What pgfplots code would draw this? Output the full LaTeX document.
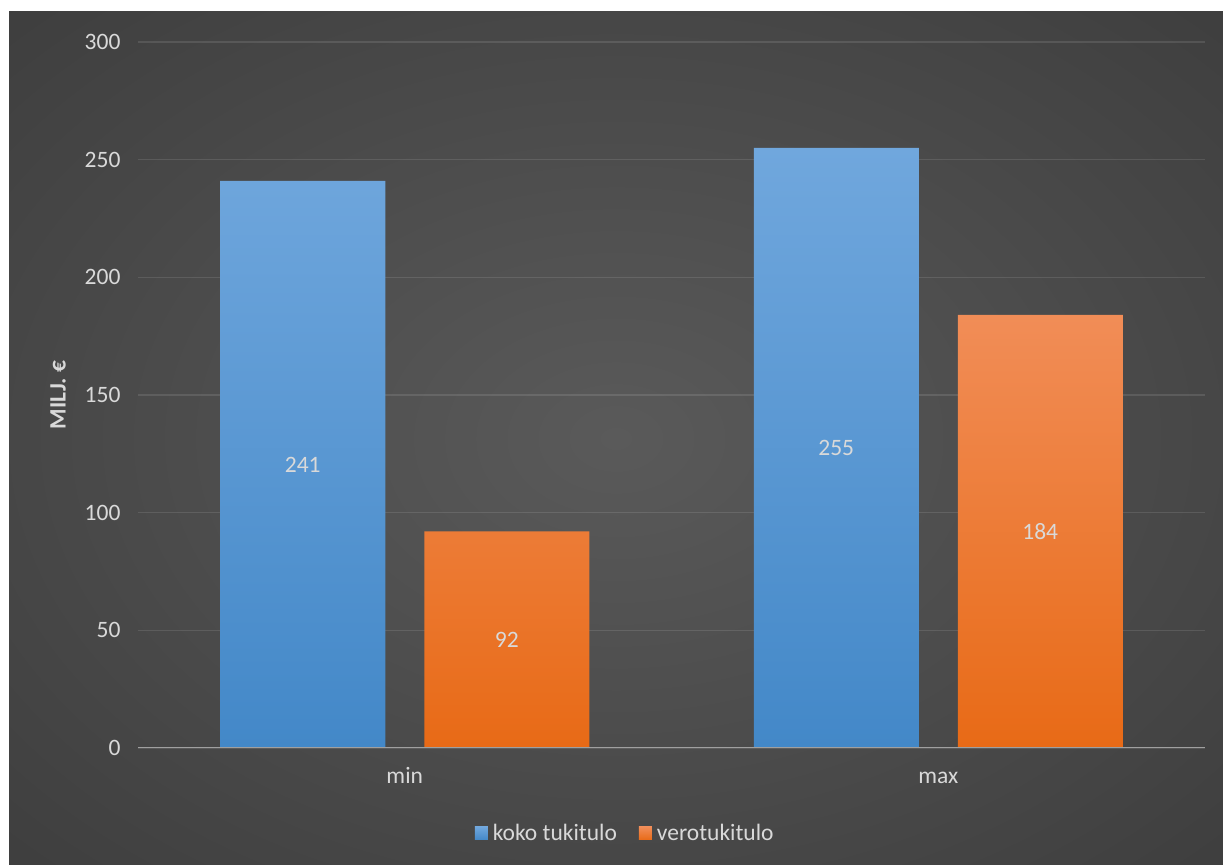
\documentclass[border=0pt]{standalone}
\usepackage{pgfplots}
\pgfplotsset{compat=1.18}
\usepackage{fontspec}
\setmainfont{Carlito}
\definecolor{bgin}{HTML}{5A5A5A}
\definecolor{bgmid}{HTML}{333333}
\definecolor{bgout}{HTML}{262626}
\definecolor{btop}{HTML}{70A7DD}
\definecolor{bbot}{HTML}{4388C8}
\definecolor{otop}{HTML}{F18D57}
\definecolor{obot}{HTML}{E86A16}
\definecolor{txt}{HTML}{D9D9D9}
\definecolor{zeroline}{HTML}{A0A0A0}
\pgfdeclareradialshading{bgshade}{\pgfpointorigin}{color(0bp)=(bgin); color(50bp)=(bgmid); color(71bp)=(bgout)}
\newcommand{\chartfont}{\fontsize{23.5bp}{28bp}\selectfont}
\begin{document}
\begin{tikzpicture}[x=1bp,y=1bp]
\fill[white] (0,0) rectangle (1223,865);
\path[use as bounding box] (0,0) rectangle (1223,865);
\shade[shading=bgshade] (9,0) rectangle (1223,853);
\begin{axis}[
  at={(138bp,117bp)}, anchor=south west,
  scale only axis, width=1067bp, height=706bp,
  ybar=39bp, bar width=165bp,
  xmin=-0.5, xmax=1.5, ymin=0, ymax=300,
  xtick=data, xticklabels={min,max},
  ytick={0,50,...,300},
  axis line style={draw=none},
  major tick length=0pt,
  ymajorgrids, grid style={white, opacity=0.11, line width=1.5bp},
  /pgf/number format/assume math mode=true,
  ticklabel style={font=\chartfont, text=txt},
  yticklabel style={xshift=-14bp},
  xticklabel style={text height=12bp, text depth=0pt, yshift=-20bp},
  ylabel={\textbf{MILJ. €}},
  ylabel style={at={(axis description cs:-0.075,0.5)}, anchor=center, font=\chartfont, text=txt},
  visualization depends on=y \as \rawy,
  nodes near coords,
  nodes near coords style={font=\chartfont, text=txt, anchor=center, shift={(axis direction cs:0,-\rawy/2)}},
  legend style={at={(axis description cs:0.458,-0.121)}, anchor=center, draw=none, fill=none,
    font=\chartfont, text=txt, legend columns=2,
    nodes={inner xsep=5bp},
    /tikz/every even column/.append style={column sep=17bp}},
  legend image code/.code={\path[#1, draw=none] (0bp,-6.5bp) rectangle (13bp,6.5bp);},
]
\addplot[draw=none, top color=btop, bottom color=bbot] coordinates {(0,241) (1,255)};
\addplot[draw=none, top color=otop, bottom color=obot] coordinates {(0,92) (1,184)};
\legend{koko tukitulo, verotukitulo}
\draw[color=zeroline, line width=2bp] (axis cs:-0.5,0) -- (axis cs:1.5,0);
\end{axis}
\end{tikzpicture}
\end{document}
